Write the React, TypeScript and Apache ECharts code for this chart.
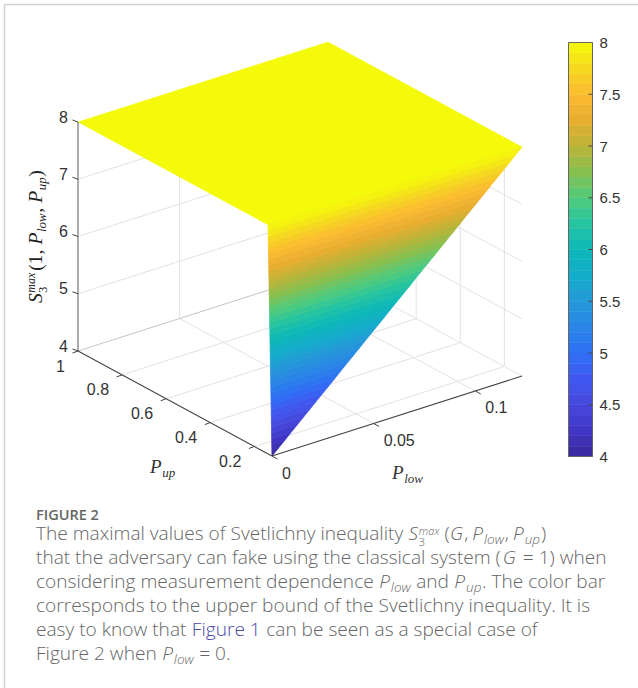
import React, { useEffect, useRef } from "react";
import * as echarts from "echarts";

// ---- data ----
const plowTicks = [0, 0.05, 0.1];
const plowTickLabels = ["0", "0.05", "0.1"];
const pupTicks = [0.2, 0.4, 0.6, 0.8, 1];
const pupTickLabels = ["0.2", "0.4", "0.6", "0.8", "1"];
const sTicks = [4, 5, 6, 7, 8];
const sTickLabels = ["4", "5", "6", "7", "8"];
const plowRange = [0, 0.123];
const pupRange = [0.12, 1];
const sRange = [4, 8];

// flat part of the surface
const topPlow = [0, 0.123, 0.123, 0];
const topPup = [1, 1, 0.12, 0.138];
const topS = [8, 8, 8, 8];

// steep wedge: at each level, the point on the Pup = min edge and the point on the Plow = 0 edge
const wedgeS = [4, 4.1, 4.2, 4.3, 4.4, 4.5, 4.6, 4.7, 4.8, 4.9, 5, 5.1, 5.2, 5.3, 5.4, 5.5, 5.6, 5.7, 5.8, 5.9, 6, 6.1, 6.2, 6.3, 6.4, 6.5, 6.6, 6.7, 6.8, 6.9, 7, 7.1, 7.2, 7.3, 7.4, 7.5, 7.6, 7.7, 7.8, 7.9, 8];
const wedgePlow = [0, 0.0031, 0.0062, 0.0092, 0.0123, 0.0154, 0.0185, 0.0215, 0.0246, 0.0277, 0.0308, 0.0338, 0.0369, 0.04, 0.0431, 0.0461, 0.0492, 0.0523, 0.0554, 0.0584, 0.0615, 0.0646, 0.0677, 0.0707, 0.0738, 0.0769, 0.08, 0.083, 0.0861, 0.0892, 0.0923, 0.0953, 0.0984, 0.1015, 0.1046, 0.1076, 0.1107, 0.1138, 0.1169, 0.1199, 0.123];
const wedgePup = [0.12, 0.12045, 0.1209, 0.12135, 0.1218, 0.12225, 0.1227, 0.12315, 0.1236, 0.12405, 0.1245, 0.12495, 0.1254, 0.12585, 0.1263, 0.12675, 0.1272, 0.12765, 0.1281, 0.12855, 0.129, 0.12945, 0.1299, 0.13035, 0.1308, 0.13125, 0.1317, 0.13215, 0.1326, 0.13305, 0.1335, 0.13395, 0.1344, 0.13485, 0.1353, 0.13575, 0.1362, 0.13665, 0.1371, 0.13755, 0.138];

const colorStops = ["#3A2A9C", "#4035C4", "#4848DC", "#4058F0", "#2E70F5", "#2A85E6", "#2498D8", "#14ACCB", "#0CB8B8", "#26C4A0", "#50CB7C", "#88C050", "#BBB437", "#E8AE30", "#FDBA32", "#F5D820", "#F5FA0A"];

// ---- projection of the 3-D box on the page ----
const ORIGIN = [272, 456];
const PLOW_VEC = [250, -80];
const PUP_VEC = [-194, -105];
const S_UNIT = 57.25;
function project(p: number, u: number, s: number): number[] {
  const a = (p - plowRange[0]) / (plowRange[1] - plowRange[0]);
  const b = (u - pupRange[0]) / (pupRange[1] - pupRange[0]);
  return [
    ORIGIN[0] + a * PLOW_VEC[0] + b * PUP_VEC[0],
    ORIGIN[1] + a * PLOW_VEC[1] + b * PUP_VEC[1] - (s - sRange[0]) * S_UNIT,
  ];
}

const SANS = "'Liberation Sans', Arial, sans-serif";
const SERIF = "'Liberation Serif', serif";
const CAPTION = "'Open Sans', sans-serif";
const TICK_COLOR = "#333333";

// rows [plowA, pupA, sA, plowB, pupB, sB, colour, width]
const gridColor = "#e2e2e2";
const gridRows: any[] = [];
[5, 6, 7].forEach((s) => {
  gridRows.push([plowRange[0], pupRange[1], s, plowRange[1], pupRange[1], s, gridColor, 1]);
  gridRows.push([plowRange[1], pupRange[1], s, plowRange[1], pupRange[0], s, gridColor, 1]);
});
plowTicks.slice(1).forEach((p) => {
  gridRows.push([p, pupRange[0], sRange[0], p, pupRange[1], sRange[0], gridColor, 1]);
  gridRows.push([p, pupRange[1], sRange[0], p, pupRange[1], sRange[1], gridColor, 1]);
});
pupTicks.slice(0, 4).forEach((u) => {
  gridRows.push([plowRange[0], u, sRange[0], plowRange[1], u, sRange[0], gridColor, 1]);
  gridRows.push([plowRange[1], u, sRange[0], plowRange[1], u, sRange[1], gridColor, 1]);
});
gridRows.push([plowRange[0], pupRange[1], sRange[0], plowRange[1], pupRange[1], sRange[0], "#c4c4c4", 1]);
gridRows.push([plowRange[1], pupRange[1], sRange[0], plowRange[1], pupRange[0], sRange[0], gridColor, 1]);
gridRows.push([plowRange[1], pupRange[1], sRange[0], plowRange[1], pupRange[1], sRange[1], gridColor, 1]);

const axisRows: any[] = [
  [plowRange[0], pupRange[1], sRange[0], plowRange[0], pupRange[1], sRange[1], "#808080", 1.3],
  [plowRange[0], pupRange[1], sRange[0], plowRange[0], pupRange[0], sRange[0], "#444444", 1.1],
  [plowRange[0], pupRange[0], sRange[0], plowRange[1], pupRange[0], sRange[0], "#444444", 1.1],
];

// rows [kind, value, label]
const tickRows: any[] = [
  ...sTicks.map((v, i) => ["s", v, sTickLabels[i]]),
  ...pupTicks.map((v, i) => ["u", v, pupTickLabels[i]]),
  ...plowTicks.map((v, i) => ["p", v, plowTickLabels[i]]),
];

const stripRows = wedgeS.slice(0, -1).map((s, i) => [
  (s + wedgeS[i + 1]) / 2, s, wedgeS[i + 1], wedgePlow[i], wedgePlow[i + 1], wedgePup[i], wedgePup[i + 1],
]);
const barRows = wedgeS.slice(0, -1).map((s, i) => [(s + wedgeS[i + 1]) / 2, s, wedgeS[i + 1]]);

function textWidth(t: string, font: string): number {
  const c = document.createElement("canvas").getContext("2d")!;
  c.font = font;
  return c.measureText(t).width;
}

type Piece = { t: string; i?: boolean; size?: number; dy?: number; fill?: string; gap?: number; adv?: boolean };

// lays pieces of text one after the other from baseline point (x, y);
// the spaces at either end of a piece only move the pen, as SVG text would drop them
function flow(pieces: Piece[], x: number, y: number, base: number, family: string, fill: string, weight: any = "normal"): any[] {
  let cx = x;
  const out: any[] = [];
  pieces.forEach((pc) => {
    const size = pc.size ?? base;
    const style = pc.i ? "italic" : "normal";
    const font = `${style} ${weight} ${size}px ${family}`;
    const lead = pc.t.length - pc.t.trimStart().length;
    const startX = cx + (lead ? textWidth(pc.t.slice(0, lead), font) : 0);
    out.push({
      type: "text",
      x: startX,
      y: y + (pc.dy ?? 0) - 0.35 * size,
      style: { text: pc.t.trim(), fontSize: size, fontFamily: family, fontStyle: style, fontWeight: weight, fill: pc.fill ?? fill, align: "left", verticalAlign: "middle" },
      silent: true,
    });
    if (pc.adv !== false) cx += textWidth(pc.t, font) + (pc.gap ?? 0.5);
  });
  return out;
}

const capFill = "#666666";
const capSize = 19.1;
const subS = { i: true, size: 13.5, dy: 4 };
const capP: Piece = { t: "P", i: true, gap: 1 };
const captionLines: { y: number; pieces: Piece[] }[] = [
  { y: 540, pieces: [{ t: "The maximal values of Svetlichny inequality " }, { t: "S", i: true, gap: 0.6 }, { t: "3", size: 11, dy: 5, adv: false }, { t: "max", i: true, size: 11, dy: -6, gap: 5 }, { t: "(" }, { t: "G", i: true, gap: 1 }, { t: ",", gap: 4 }, capP, { t: "low", ...subS, gap: 1 }, { t: ",", gap: 4 }, capP, { t: "up", ...subS, gap: 1 }, { t: ")" }] },
  { y: 564, pieces: [{ t: "that the adversary can fake using the classical system (" , gap: 2 }, { t: "G", i: true, gap: 2 }, { t: " = 1) when" }] },
  { y: 588, pieces: [{ t: "considering measurement dependence " }, capP, { t: "low", ...subS }, { t: " and " }, capP, { t: "up", ...subS }, { t: ". The color bar" }] },
  { y: 612, pieces: [{ t: "corresponds to the upper bound of the Svetlichny inequality. It is" }] },
  { y: 636, pieces: [{ t: "easy to know that " }, { t: "Figure 1", fill: "#4a4aa8" }, { t: " can be seen as a special case of" }] },
  { y: 660, pieces: [{ t: "Figure 2 when " }, capP, { t: "low", ...subS }, { t: " = 0." }] },
];

const yLabel: Piece[] = [
  { t: "S", i: true, size: 19.5, gap: 0.6 },
  { t: "3", size: 12, dy: 5, adv: false },
  { t: "max", i: true, size: 12, dy: -7, gap: 2 },
  { t: "(1,", size: 19.5, gap: 5 },
  { t: "P", i: true, size: 19.5, gap: 0.6 },
  { t: "low", i: true, size: 13, dy: 4 },
  { t: ",", size: 19.5, gap: 5 },
  { t: "P", i: true, size: 19.5, gap: 0.6 },
  { t: "up", i: true, size: 13, dy: 4 },
  { t: ")", size: 19.5 },
];

export default function App() {
  const ref = useRef<HTMLDivElement>(null);
  useEffect(() => {
    document.body.style.margin = "0";
    const chart = echarts.init(ref.current!, undefined, { renderer: "svg" });

    const polyShape = (api: any, pts: number[][]) => ({
      points: pts.map((q) => api.coord(q)),
    });

    const lineSeries = (rows: any[]) => ({
      type: "custom",
      xAxisIndex: 0,
      yAxisIndex: 0,
      silent: true,
      clip: false,
      data: rows.map((_, i) => [i]),
      renderItem: (params: any, api: any) => {
        const r = rows[params.dataIndex];
        const pa = api.coord(project(r[0], r[1], r[2]));
        const pb = api.coord(project(r[3], r[4], r[5]));
        return {
          type: "line",
          shape: { x1: pa[0], y1: pa[1], x2: pb[0], y2: pb[1] },
          style: { stroke: r[6], lineWidth: r[7], fill: null },
        };
      },
    });

    const option: any = {
      animation: false,
      backgroundColor: "#ffffff",
      grid: [
        { left: 0, top: 0, width: 638, height: 688, show: false },
        { left: 568.5, top: 42.5, width: 24, height: 414, show: false },
      ],
      xAxis: [
        { gridIndex: 0, type: "value", min: 0, max: 638, show: false },
        { gridIndex: 1, type: "value", min: 0, max: 1, show: false },
      ],
      yAxis: [
        { gridIndex: 0, type: "value", min: 0, max: 688, inverse: true, show: false },
        {
          gridIndex: 1, type: "value", min: 4, max: 8, interval: 0.5, position: "right",
          axisLine: { show: false },
          axisTick: { show: false },
          splitLine: { show: false },
          axisLabel: { color: TICK_COLOR, fontSize: 15, fontFamily: SANS, margin: 7, formatter: (v: number) => String(v) },
        },
      ],
      visualMap: {
        show: false, type: "continuous", min: 4, max: 8, dimension: 0,
        seriesIndex: [1, 2, 4], inRange: { color: colorStops },
      },
      series: [
        lineSeries(gridRows),
        {
          type: "custom", xAxisIndex: 0, yAxisIndex: 0, silent: true, clip: false,
          data: [[topS[0]]],
          renderItem: (_: any, api: any) => {
            const color = api.visual("color");
            const pts = topPlow.map((p, i) => project(p, topPup[i], topS[i]));
            return { type: "polygon", shape: polyShape(api, pts), style: { fill: color, stroke: color, lineWidth: 0.5 } };
          },
        },
        {
          type: "custom", xAxisIndex: 0, yAxisIndex: 0, silent: true, clip: false,
          data: stripRows,
          renderItem: (_: any, api: any) => {
            const color = api.visual("color");
            const sA = api.value(1), sB = api.value(2), pA = api.value(3), pB = api.value(4), uA = api.value(5), uB = api.value(6);
            const pts = [project(plowRange[0], uA, sA), project(pA, pupRange[0], sA), project(pB, pupRange[0], sB), project(plowRange[0], uB, sB)];
            return { type: "polygon", shape: polyShape(api, pts), style: { fill: color, stroke: color, lineWidth: 0.8 } };
          },
        },
        lineSeries(axisRows),
        {
          type: "custom", xAxisIndex: 1, yAxisIndex: 1, silent: true,
          data: barRows,
          renderItem: (_: any, api: any) => {
            const color = api.visual("color");
            const a = api.coord([0, api.value(1)]);
            const b = api.coord([1, api.value(2)]);
            return { type: "rect", shape: { x: a[0], y: b[1], width: b[0] - a[0], height: a[1] - b[1] }, style: { fill: color, stroke: color, lineWidth: 0.5 } };
          },
        },
        {
          type: "custom", xAxisIndex: 1, yAxisIndex: 1, silent: true, clip: false, z: 5,
          data: [[0, 4]],
          renderItem: (_: any, api: any) => {
            const a = api.coord([0, 4]);
            const b = api.coord([1, 8]);
            const kids: any[] = [
              { type: "rect", shape: { x: a[0], y: b[1], width: b[0] - a[0], height: a[1] - b[1] }, style: { fill: null, stroke: "#666666", lineWidth: 1 } },
            ];
            [4.5, 5, 5.5, 6, 6.5, 7, 7.5].forEach((v) => {
              const q = api.coord([1, v]);
              kids.push({ type: "line", shape: { x1: q[0] - 4, y1: q[1], x2: q[0], y2: q[1] }, style: { stroke: "#444444", lineWidth: 1, fill: null } });
            });
            return { type: "group", children: kids };
          },
        },
        {
          type: "custom", xAxisIndex: 0, yAxisIndex: 0, silent: true, clip: false,
          data: tickRows.map((_, i) => [i]),
          renderItem: (params: any, api: any) => {
            const [kind, v, label] = tickRows[params.dataIndex];
            let pt: number[], d: number[], lp: number[], align = "right";
            if (kind === "s") {
              pt = project(plowRange[0], pupRange[1], v);
              d = [-5.5, -2];
              lp = [pt[0] - 10, pt[1] - 5];
            } else if (kind === "u") {
              pt = project(plowRange[0], v, sRange[0]);
              d = [-5.5, 2];
              lp = [pt[0] - 13, pt[1] + 15];
            } else {
              pt = project(v, pupRange[0], sRange[0]);
              d = [5.5, 3];
              lp = [pt[0] + 10, pt[1] + 17];
              align = "left";
            }
            const a = api.coord(pt);
            const b = api.coord([pt[0] + d[0], pt[1] + d[1]]);
            const l = api.coord(lp);
            return {
              type: "group",
              children: [
                { type: "line", shape: { x1: a[0], y1: a[1], x2: b[0], y2: b[1] }, style: { stroke: "#444444", lineWidth: 1, fill: null } },
                { type: "text", x: l[0], y: l[1], style: { text: label, fill: TICK_COLOR, fontSize: 16, fontFamily: SANS, align, verticalAlign: "middle" } },
              ],
            };
          },
        },
      ],
      graphic: [
        { type: "line", shape: { x1: 4.5, y1: 4.5, x2: 638, y2: 4.5 }, style: { stroke: "#cfcfcf", lineWidth: 1.4 }, silent: true },
        { type: "line", shape: { x1: 4.5, y1: 4.5, x2: 4.5, y2: 688 }, style: { stroke: "#cfcfcf", lineWidth: 1.4 }, silent: true },
        {
          type: "group", x: 42, y: 303, rotation: Math.PI / 2,
          children: flow(yLabel, 0, 0, 19.5, SERIF, "#222222"),
        },
        ...flow([{ t: "P", i: true, size: 19, gap: 0.6 }, { t: "up", i: true, size: 13, dy: 4 }], 150, 473, 19, SERIF, "#333333"),
        ...flow([{ t: "P", i: true, size: 19, gap: 0.6 }, { t: "low", i: true, size: 13, dy: 4 }], 392, 479, 19, SERIF, "#333333"),
        ...flow([{ t: "FIGURE 2" }], 36, 520, 14.5, CAPTION, "#666666", 600),
        ...captionLines.flatMap((ln) => flow(ln.pieces, 36, ln.y, capSize, CAPTION, capFill, 300)),
      ],
    };
    chart.setOption(option);
    return () => chart.dispose();
  }, []);
  return <div ref={ref} style={{ width: 638, height: 688 }} />;
}
